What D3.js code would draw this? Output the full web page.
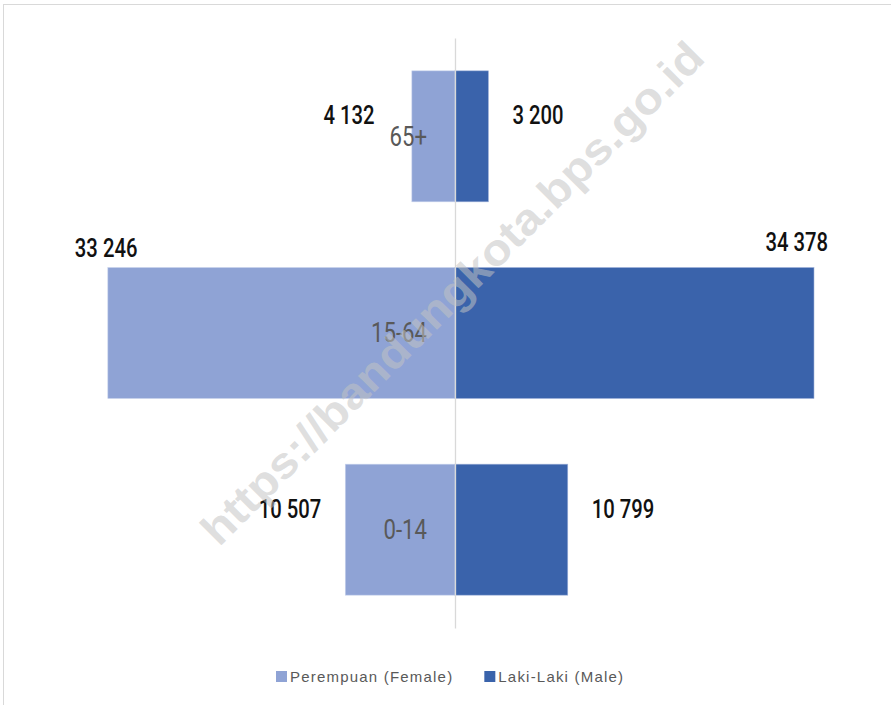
<!DOCTYPE html>
<html>
<head>
<meta charset="utf-8">
<script src="https://cdn.jsdelivr.net/npm/d3@7"></script>
<style>
  body { margin: 0; background: #fff; }
  svg { display: block; }
  .num { font-family: Roboto, "Liberation Sans", sans-serif; font-weight: 500; }
</style>
</head>
<body>
<script>
// age groups, top to bottom
const ageGroups = ["65+", "15-64", "0-14"];
const female = [4132, 33246, 10507];
const male = [3200, 34378, 10799];
const seriesNames = ["Perempuan (Female)", "Laki-Laki (Male)"];
const watermark = "https://bandungkota.bps.go.id";

const width = 891, height = 705;
const colors = ["#8fa3d5", "#3a63ab"];

const svg = d3.select("body")
  .append("svg")
  .attr("width", width)
  .attr("height", height);

// outer frame (runs off the right/bottom edge like the source)
svg.append("rect")
  .attr("x", 3.5)
  .attr("y", 4.5)
  .attr("width", width + 10)
  .attr("height", height + 10)
  .attr("fill", "none")
  .attr("stroke", "#d9d9d9");

const x = d3.scaleLinear()
  .domain([-40000, 40000])
  .range([37.3, 872.7]);

const y = d3.scaleBand()
  .domain(ageGroups)
  .range([38, 628])
  .paddingInner(0.334)
  .paddingOuter(0.167);

const rows = ageGroups.map((g, i) => ({ group: g, f: female[i], m: male[i] }));
const fmt = (v) => d3.format(",")(v).replace(/,/g, " ");

// squeeze text horizontally to get the condensed look of the original font
function condense(sel, k) {
  sel.each(function () {
    const len = this.getComputedTextLength();
    d3.select(this)
      .attr("textLength", len * k)
      .attr("lengthAdjust", "spacingAndGlyphs");
  });
}

// female bars (left)
svg.selectAll(".bar-f")
  .data(rows)
  .enter()
  .append("rect")
  .attr("class", "bar-f")
  .attr("x", (d) => x(-d.f))
  .attr("y", (d) => y(d.group))
  .attr("width", (d) => x(0) - x(-d.f))
  .attr("height", y.bandwidth())
  .attr("fill", colors[0])
  .attr("stroke", "#c9d3ec")
  .attr("stroke-width", 0.6);

// male bars (right)
svg.selectAll(".bar-m")
  .data(rows)
  .enter()
  .append("rect")
  .attr("class", "bar-m")
  .attr("x", x(0))
  .attr("y", (d) => y(d.group))
  .attr("width", (d) => x(d.m) - x(0))
  .attr("height", y.bandwidth())
  .attr("fill", colors[1])
  .attr("stroke", "#9fb2d9")
  .attr("stroke-width", 0.6);

// centre axis with the age group labels
const tickPad = 28;
const axis = svg.append("g")
  .attr("transform", `translate(${x(0)},0)`)
  .call(d3.axisLeft(y).tickSize(0).tickSizeOuter(0).tickPadding(tickPad));
axis.select(".domain").attr("stroke", "#d9d9d9").attr("stroke-width", 1.3);
axis.selectAll("text")
  .attr("class", "num")
  .attr("fill", "#595959")
  .style("font-size", "27px")
  .style("font-weight", "400")
  .attr("dy", "0.35em")
  .call(condense, 0.82);

// left edge of each age label, so female values can dodge it
const tickLeft = {};
axis.selectAll(".tick text").each(function (g) {
  tickLeft[g] = x(0) - tickPad - this.getComputedTextLength();
});

// value labels: beside the bar end, or above it when the bar is long
function isLong(v) {
  return x(v) - x(0) > 300;
}

rows.forEach((d) => {
  [[d.f, -1], [d.m, 1]].forEach(([v, side]) => {
    const end = side < 0 ? x(-v) : x(v);
    const cy = y(d.group) + y.bandwidth() / 2;
    const above = isLong(v);
    let lx, ly, anchor;
    if (above) {
      // long bars: label sits over the bar end
      lx = side < 0 ? end - 33 : end + 14;
      ly = y(d.group) - 11 + (side > 0 ? -6 : 0);
      anchor = side < 0 ? "start" : "end";
    } else {
      lx = end + side * 24;
      if (side < 0) lx = Math.min(lx, tickLeft[d.group] - 15);
      ly = cy - 12;
      anchor = side < 0 ? "end" : "start";
    }
    svg.append("text")
      .attr("class", "num")
      .attr("x", lx)
      .attr("y", ly)
      .attr("text-anchor", anchor)
      .attr("fill", "#111")
      .style("font-size", "25px")
      .text(fmt(v))
      .call(condense, 0.81);
  });
});

// legend
const legend = svg.append("g").attr("transform", "translate(276,676)");
let lx = 0;
seriesNames.forEach((name, i) => {
  legend.append("rect")
    .attr("x", lx)
    .attr("y", -5)
    .attr("width", 11)
    .attr("height", 11)
    .attr("fill", colors[i]);
  const t = legend.append("text")
    .attr("x", lx + 14)
    .attr("y", 0)
    .attr("dy", "0.38em")
    .attr("fill", "#595959")
    .style("font-family", "Liberation Sans, sans-serif")
    .style("font-size", "15px")
    .style("letter-spacing", "1.2px")
    .text(name);
  lx += 14 + t.node().getComputedTextLength() + 31;
});

// watermark
svg.append("text")
  .attr("transform", "translate(452,293) rotate(-45)")
  .attr("text-anchor", "middle")
  .attr("dy", "0.35em")
  .attr("fill", "rgba(195,195,195,0.55)")
  .style("font-family", "Liberation Sans, sans-serif")
  .style("font-weight", "bold")
  .style("font-size", "44px")
  .attr("textLength", 690)
  .attr("lengthAdjust", "spacingAndGlyphs")
  .text(watermark);
</script>
</body>
</html>
